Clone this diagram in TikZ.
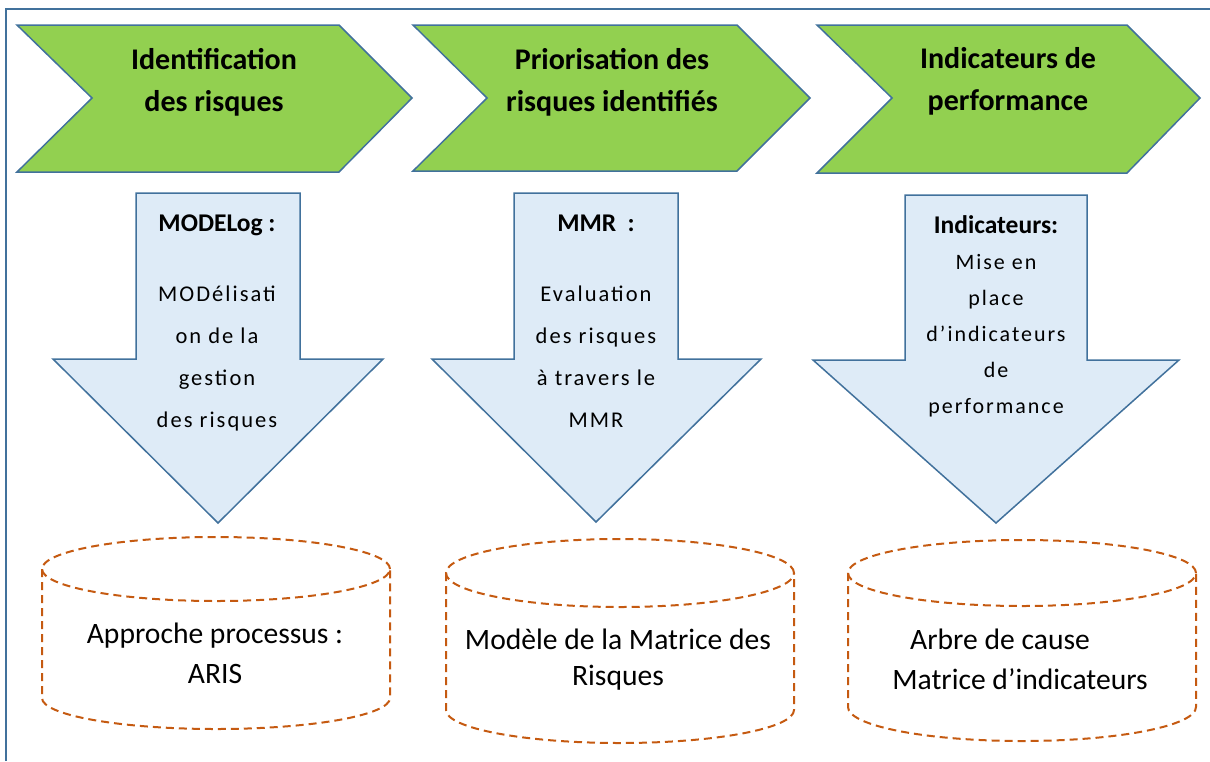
\documentclass[tikz,border=0pt]{standalone}
\usepackage{fontspec}
\setmainfont{Carlito}
\newfontfamily\spacedfont[LetterSpace=9]{Carlito}
\definecolor{frameblue}{HTML}{41719C}
\definecolor{chevgreen}{HTML}{92D050}
\definecolor{arrowfill}{HTML}{DEEBF7}
\definecolor{cylorange}{HTML}{C55A11}
\begin{document}
\begin{tikzpicture}[x=1pt,y=-1pt,
  chevron/.style={fill=chevgreen,draw=frameblue,line width=1.5pt,line join=miter},
  downarrow/.style={fill=arrowfill,draw=frameblue,line width=1.5pt},
  cyl/.style={draw=cylorange,line width=2pt,dash pattern=on 8pt off 5pt},
  chevtext/.style={font=\fontsize{30}{42}\selectfont\bfseries,align=center,anchor=base,inner sep=0pt},
  headtext/.style={font=\fontsize{25.5}{28}\selectfont\bfseries,anchor=base,inner sep=0pt},
  bodytext/.style={font=\spacedfont\fontsize{22.5}{42}\selectfont,align=center,anchor=base,inner sep=0pt},
  bodytextb/.style={font=\spacedfont\fontsize{22}{36}\selectfont,align=center,anchor=base,inner sep=0pt},
  cyltext/.style={font=\fontsize{29.6}{40}\selectfont,align=center,anchor=base,inner sep=0pt}]
\useasboundingbox (0,0) rectangle (1210,761);
% frame
\draw[frameblue,line width=2pt] (6,761) -- (6,9) -- (1210,9);
% chevrons
\draw[chevron] (17,25) -- (339,25) -- (412,98) -- (339,172) -- (17,172) -- (92,98) -- cycle;
\draw[chevron] (413,25) -- (737,25) -- (810,98) -- (737,171) -- (413,171) -- (487,98) -- cycle;
\draw[chevron] (817,25) -- (1127,25) -- (1200,98) -- (1127,173) -- (817,173) -- (892,98) -- cycle;
\node[chevtext] (c1) at (214,111) {Identification\\des risques};
\node[chevtext] (c2) at (612,111) {Priorisation des\\risques identifiés};
\node[chevtext] (c3) at (1008,110) {Indicateurs de\\performance};
% down arrows
\draw[downarrow] (136,193) -- (300,193) -- (300,359) -- (383,359) -- (218,523) -- (53,359) -- (136,359) -- cycle;
\draw[downarrow] (514,193) -- (678,193) -- (678,359) -- (761,359) -- (596,522) -- (432,359) -- (514,359) -- cycle;
\draw[downarrow] (905,195) -- (1087,195) -- (1087,360) -- (1179,360) -- (996,523) -- (813,360) -- (905,360) -- cycle;
\node[headtext] (h1) at (217,231) {MODELog :};
\node[headtext] (h2) at (596,231) {MMR\ \ :};
\node[headtext] (h3) at (996,233) {Indicateurs:};
\node[bodytext] (b1) at (217,427) {MODélisati\\on de la\\gestion\\des risques};
\node[bodytext] (b2) at (596,427) {Evaluation\\des risques\\à travers le\\MMR};
\node[bodytextb] (b3) at (996,413) {Mise en\\place\\d’indicateurs\\de\\performance};
% cylinders
\draw[cyl] (216,569) ellipse [x radius=174pt, y radius=32pt];
\draw[cyl] (42,569) -- (42,698) arc[start angle=180, end angle=360, x radius=174pt, y radius=31pt] -- (390,569);
\draw[cyl] (620,573) ellipse [x radius=174pt, y radius=34pt];
\draw[cyl] (446,573) -- (446,710) arc[start angle=180, end angle=360, x radius=174pt, y radius=33pt] -- (794,573);
\draw[cyl] (1022,573) ellipse [x radius=174pt, y radius=33pt];
\draw[cyl] (848,573) -- (848,707) arc[start angle=180, end angle=360, x radius=174pt, y radius=34pt] -- (1196,573);
\node[cyltext] (d1) at (215,683) {Approche processus :\\ARIS};
\node[cyltext,font=\fontsize{29.6}{36}\selectfont] (d2) at (618,685) {Modèle de la Matrice des\\Risques};
\node[cyltext] (d3) at (1020,689) {Arbre de cause\hspace*{40pt}\\Matrice d’indicateurs};
\end{tikzpicture}
\end{document}
